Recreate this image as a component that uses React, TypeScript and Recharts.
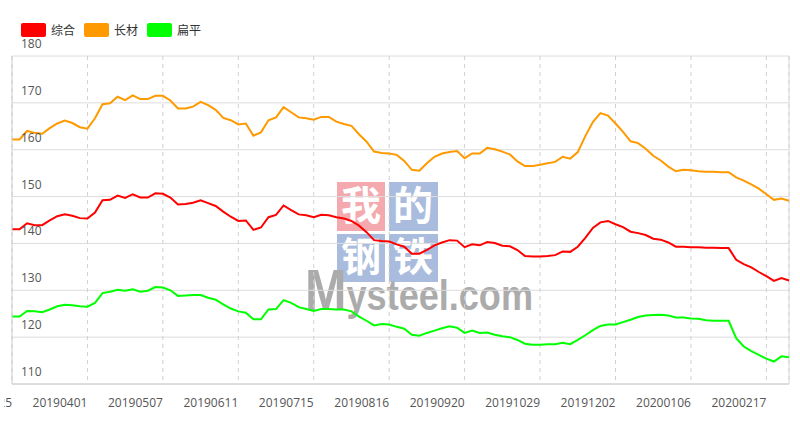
import { CartesianGrid, Line, LineChart, ReferenceLine, XAxis, YAxis } from 'recharts';

// tick labels, one every 10 points
const tickLabels = [
  '20190225', '20190401', '20190507', '20190611', '20190715', '20190816',
  '20190920', '20191029', '20191202', '20200106', '20200217',
];

const zonghe = [
  143.0, 143.0, 144.3, 143.9, 143.9, 144.9, 145.8, 146.2, 145.9, 145.4,
  145.3, 146.6, 149.2, 149.3, 150.2, 149.7, 150.5, 149.8, 149.8, 150.7,
  150.6, 149.8, 148.3, 148.4, 148.7, 149.2, 148.6, 148.0, 146.8, 145.7,
  144.8, 144.9, 142.9, 143.4, 145.6, 146.1, 148.1, 147.1, 146.2, 146.0,
  145.6, 146.1, 146.0, 145.6, 145.3, 144.8, 143.8, 142.4, 140.7, 140.5,
  140.4, 139.8, 139.3, 137.8, 137.8, 138.6, 139.6, 140.2, 140.7, 140.6,
  139.2, 139.8, 139.6, 140.3, 140.1, 139.5, 139.4, 138.6, 137.3, 137.2,
  137.2, 137.3, 137.5, 138.3, 138.2, 139.3, 141.2, 143.3, 144.5, 144.8,
  144.1, 143.5, 142.5, 142.2, 141.8, 141.0, 140.8, 140.2, 139.3, 139.3,
  139.2, 139.2, 139.1, 139.1, 139.0, 139.0, 136.5, 135.6, 134.9, 133.9,
  133.0, 132.0, 132.6, 132.1,
];

const changcai = [
  162.2, 162.2, 164.0, 163.6, 163.4, 164.6, 165.6, 166.2, 165.7, 164.8,
  164.5, 166.7, 169.7, 169.9, 171.3, 170.6, 171.6, 170.8, 170.8, 171.5,
  171.5, 170.5, 168.8, 168.8, 169.2, 170.2, 169.5, 168.5, 166.8, 166.3,
  165.4, 165.6, 163.0, 163.7, 166.3, 166.9, 169.1, 168.0, 166.9, 166.7,
  166.4, 167.0, 167.0, 166.0, 165.5, 165.1, 163.3, 161.7, 159.6, 159.3,
  159.2, 158.9, 157.6, 155.7, 155.5, 157.1, 158.5, 159.2, 159.5, 159.7,
  158.2, 159.2, 159.2, 160.4, 160.1, 159.6, 159.0, 157.5, 156.5, 156.5,
  156.8, 157.1, 157.4, 158.5, 158.1, 159.5, 162.9, 165.9, 167.8, 167.3,
  165.6, 163.8, 161.8, 161.4, 160.2, 158.7, 157.7, 156.4, 155.4, 155.7,
  155.6, 155.4, 155.3, 155.3, 155.2, 155.2, 154.1, 153.4, 152.6, 151.7,
  150.5, 149.3, 149.6, 149.1,
];

const bianping = [
  124.4, 124.4, 125.6, 125.5, 125.3, 125.9, 126.6, 126.9, 126.8, 126.6,
  126.5, 127.3, 129.4, 129.7, 130.1, 129.9, 130.2, 129.7, 129.9, 130.7,
  130.6, 130.0, 128.8, 128.9, 129.0, 129.0, 128.4, 128.0, 127.0, 126.1,
  125.5, 125.2, 123.8, 123.8, 125.9, 126.0, 127.9, 127.3, 126.4, 126.0,
  125.6, 126.0, 126.0, 125.9, 125.9, 125.5, 124.4, 123.5, 122.5, 122.8,
  122.7, 122.2, 121.8, 120.5, 120.3, 120.9, 121.4, 121.9, 122.3, 122.0,
  120.9, 121.4, 120.9, 121.0, 120.5, 120.2, 120.0, 119.4, 118.6, 118.4,
  118.4, 118.5, 118.5, 118.8, 118.5, 119.4, 120.4, 121.5, 122.4, 122.7,
  122.7, 123.2, 123.7, 124.3, 124.6, 124.7, 124.8, 124.6, 124.2, 124.2,
  124.0, 123.9, 123.6, 123.5, 123.5, 123.5, 119.8, 118.0, 117.0, 116.2,
  115.4, 114.8, 115.9, 115.7,
];

const yTicks = [110, 120, 130, 140, 150, 160, 170, 180];

const series = [
  { key: 'zonghe', name: '综合', color: '#ff0000' },
  { key: 'changcai', name: '长材', color: '#ff9900' },
  { key: 'bianping', name: '扁平', color: '#00ff00' },
];

const data = changcai.map((v, i) => ({
  idx: i,
  zonghe: zonghe[i],
  changcai: v,
  bianping: bianping[i],
}));
const xTicks = tickLabels.map((_, k) => k * 10);
const lastIdx = changcai.length - 1;

const FONT = "'Open Sans', 'Noto Sans CJK SC', sans-serif";
const PLOT_LEFT = 12;

// first label runs off the left edge, only its last digit shows
const XTick = ({ x, y, payload }: any) => (
  <g clipPath="url(#xlabel-clip)">
    <text x={x} y={y + 23} textAnchor="end" fill="#555" fontSize={12} fontFamily={FONT}>
      {tickLabels[Math.round(payload.value / 10)]}
    </text>
  </g>
);

const YTick = ({ y, payload }: any) => (
  <text x={PLOT_LEFT + 9} y={y - 8} textAnchor="start" fill="#555" fontSize={12} fontFamily={FONT}>
    {payload.value}
  </text>
);

const Watermark = () => (
  <svg width={800} height={426} style={{ position: 'absolute', left: 0, top: 0 }}>
    <rect x={337} y={182} width={48} height={49} fill="#f4a9ae" />
    <rect x={389} y={182} width={49} height={49} fill="#a9bcdd" />
    <rect x={337} y={234} width={48} height={48} fill="#a9bcdd" />
    <rect x={389} y={234} width={49} height={48} fill="#a9bcdd" />
    <g fill="#fff" fontSize={40} fontWeight="bold" fontFamily="'Noto Sans CJK SC'" textAnchor="middle">
      <text x={361} y={220}>我</text>
      <text x={413} y={220}>的</text>
      <text x={361} y={271}>钢</text>
      <text x={413} y={271}>铁</text>
    </g>
    <text
      x={305}
      y={310}
      fill="#ababab"
      fontFamily="'Liberation Sans', sans-serif"
      fontWeight="bold"
      textLength={228}
      lengthAdjust="spacingAndGlyphs"
    >
      <tspan fontSize={58}>M</tspan>
      <tspan fontSize={42}>ysteel.com</tspan>
    </text>
  </svg>
);

const ChartLegend = () => (
  <div style={{ position: 'absolute', left: 21, top: 21, display: 'flex', fontFamily: FONT, fontSize: 12, color: '#333' }}>
    {series.map((s) => (
      <div key={s.key} style={{ display: 'flex', alignItems: 'center', width: 63 }}>
        <span style={{ width: 25, height: 14, background: s.color, borderRadius: 2, marginRight: 5 }} />
        <span>{s.name}</span>
      </div>
    ))}
  </div>
);

export default function App() {
  return (
    <div style={{ position: 'absolute', left: 0, top: 0, width: 800, height: 426 }}>
      <Watermark />
      <div style={{ position: 'absolute', left: 0, top: 0 }}>
        <LineChart width={800} height={426} data={data} margin={{ top: 56, right: 11, left: PLOT_LEFT - 2, bottom: 12 }}>
          <defs>
            <clipPath id="xlabel-clip">
              <rect x={4} y={0} width={796} height={426} />
            </clipPath>
          </defs>
          <CartesianGrid vertical={false} stroke="#dcdcdc" />
          <CartesianGrid horizontal={false} stroke="#d0d0d0" strokeDasharray="4 4" />
          <XAxis
            dataKey="idx"
            type="number"
            domain={[0, lastIdx]}
            ticks={xTicks}
            interval={0}
            height={30}
            tickSize={0}
            tickMargin={0}
            tickLine={false}
            axisLine={{ stroke: '#cccccc' }}
            tick={<XTick />}
          />
          <YAxis
            type="number"
            domain={[110, 180]}
            ticks={yTicks}
            interval={0}
            width={2}
            tickLine={false}
            axisLine={{ stroke: '#cccccc' }}
            tick={<YTick />}
          />
          <ReferenceLine x={lastIdx} stroke="#d8d8d8" />
          {series.map((s) => (
            <Line
              key={s.key}
              type="linear"
              dataKey={s.key}
              name={s.name}
              stroke={s.color}
              strokeWidth={2}
              dot={false}
              isAnimationActive={false}
            />
          ))}
        </LineChart>
      </div>
      <ChartLegend />
    </div>
  );
}
